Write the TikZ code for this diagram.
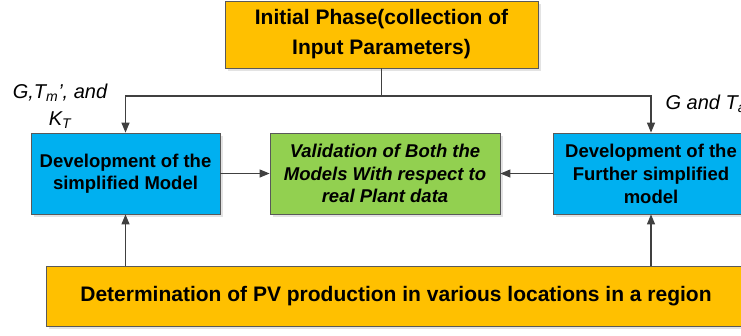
\documentclass[tikz,border=0pt]{standalone}
\usepackage{fontspec}
\setmainfont{Liberation Sans}
\usetikzlibrary{arrows.meta,shadows}
\definecolor{phaseorange}{HTML}{FFC000}
\definecolor{modelblue}{HTML}{00B0F0}
\definecolor{validgreen}{HTML}{92D050}
\definecolor{edgegray}{HTML}{595959}
\definecolor{flowgray}{HTML}{404040}
\begin{document}
\begin{tikzpicture}[x=1pt, y=-1pt,
    box/.style={draw=edgegray, line width=0.8pt, align=center, inner sep=0pt,
        drop shadow={shadow xshift=2.5pt, shadow yshift=-2.5pt, fill=black!22}},
    flow/.style={flowgray, line width=1.2pt, -{Triangle[length=10pt,width=8pt]}},
    param/.style={font=\itshape\fontsize{20}{27}\selectfont, align=center}]
    \useasboundingbox (0,0) rectangle (741,335);
    \clip (0,0) rectangle (741,335);
    %
    \node[box, fill=phaseorange, minimum width=313pt, minimum height=67pt,
        font=\bfseries\fontsize{21}{30}\selectfont] (init) at (381.5,34.5)
        {Initial Phase(collection of\\Input Parameters)};
    \node[box, fill=modelblue, minimum width=189pt, minimum height=81pt,
        font=\bfseries\fontsize{18.5}{22.5}\selectfont] (simp) at (125.5,173.5)
        {Development of the\\simplified Model};
    \node[box, fill=validgreen, minimum width=230pt, minimum height=81pt,
        font=\bfseries\itshape\fontsize{18.5}{22.5}\selectfont] (valid) at (385,173.5)
        {Validation of Both the\\Models With respect to\\real Plant data};
    \node[box, fill=modelblue, minimum width=196pt, minimum height=81pt,
        font=\bfseries\fontsize{18.5}{23}\selectfont] (further) at (651,173.5)
        {Development of the\\Further simplified\\model};
    \node[box, fill=phaseorange, minimum width=700pt, minimum height=60pt,
        font=\bfseries\fontsize{21}{25}\selectfont] (determ) at (396,296)
        {Determination of PV production in various locations in a region};
    %
    \coordinate (split) at (381.5,96);
    \draw[flow] (init.south) -- (split) -| (simp.north);
    \draw[flow] (split) -| (further.north);
    \draw[flow] (simp.east) -- (valid.west);
    \draw[flow] (further.west) -- (valid.east);
    \draw[flow] (determ.north -| simp.south) -- (simp.south);
    \draw[flow] (determ.north -| further.south) -- (further.south);
    %
    \node[param] (leftparam) at (60,106) {G,T\textsubscript{m}’, and\\K\textsubscript{T}};
    \node[param, anchor=west] (rightparam) at (662,104) {G and T\textsubscript{a}};
\end{tikzpicture}
\end{document}
